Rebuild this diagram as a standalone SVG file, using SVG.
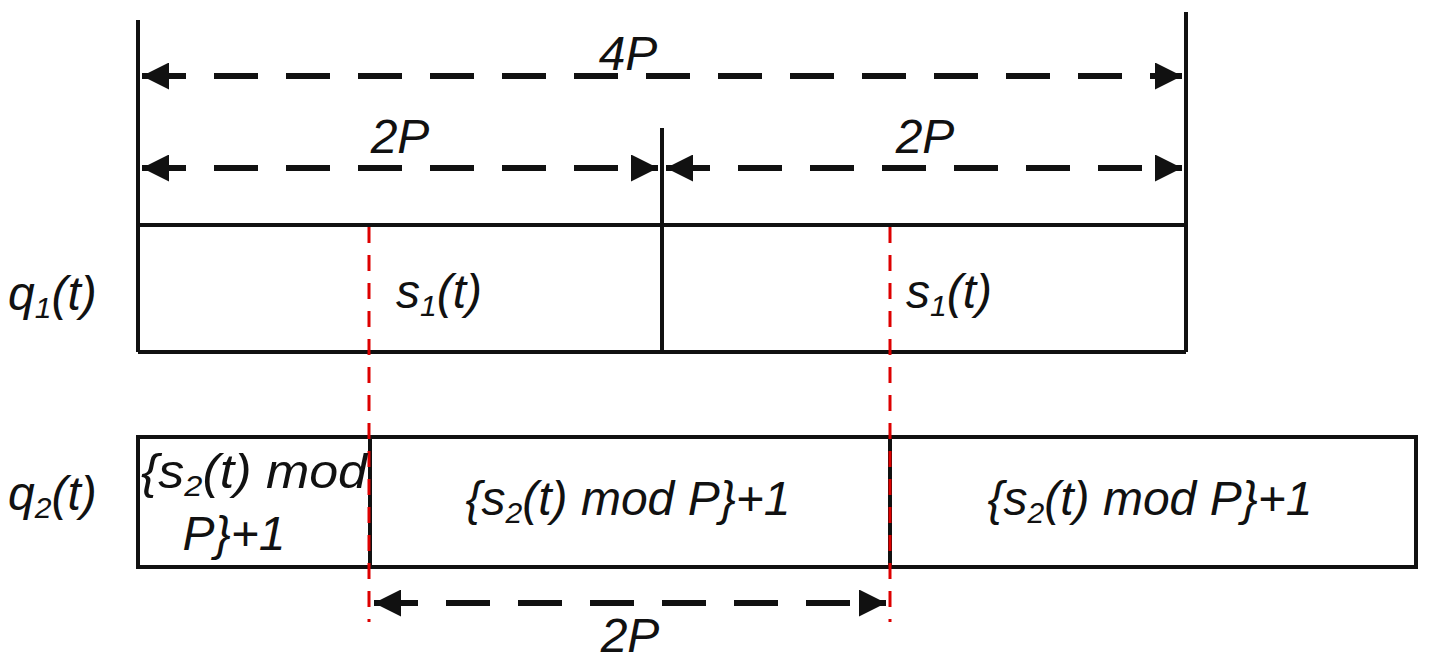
<svg xmlns="http://www.w3.org/2000/svg" width="1430" height="666" viewBox="0 0 1430 666">
<style>
.t{font-family:"Liberation Sans",Arial,sans-serif;font-style:italic;font-size:48px;fill:#111}
.s{font-size:30px}
.d{stroke:#111;stroke-width:6;stroke-dasharray:44 28;fill:none}
.r{stroke:#d00;stroke-width:3;stroke-dasharray:16 12;fill:none}
.k{stroke:#111;stroke-width:4;fill:none}
</style>
<defs>
<marker id="a" viewBox="0 0 10 10" refX="10" refY="5" markerWidth="4.5" markerHeight="4.5" orient="auto-start-reverse"><path d="M0,0L10,5L0,10z" fill="#111"/></marker>
</defs>
<rect width="1430" height="666" fill="#fff"/>
<g id="q1">
<line class="k" x1="138" y1="225" x2="1186" y2="225" stroke="#444"/>
<line class="k" x1="138" y1="352" x2="1186" y2="352"/>
<line class="k" x1="138" y1="20" x2="138" y2="352"/>
<line class="k" x1="662" y1="128" x2="662" y2="352"/>
<line class="k" x1="1186" y1="12" x2="1186" y2="352"/>
</g>
<g id="q2">
<rect class="k" x="138" y="437" width="1278" height="130"/>
<line class="k" x1="370" y1="437" x2="370" y2="567"/>
<line class="k" x1="890" y1="437" x2="890" y2="567"/>
</g>
<g id="connectors">
<line class="d" x1="142" y1="76" x2="1182" y2="76" marker-start="url(#a)" marker-end="url(#a)"/>
<line class="d" x1="142" y1="168" x2="658" y2="168" marker-start="url(#a)" marker-end="url(#a)"/>
<line class="d" x1="666" y1="168" x2="1182" y2="168" marker-start="url(#a)" marker-end="url(#a)"/>
<line class="d" x1="374" y1="603" x2="886" y2="603" marker-start="url(#a)" marker-end="url(#a)"/>
<line class="r" x1="369" y1="227" x2="369" y2="622"/>
<line class="r" x1="890" y1="227" x2="890" y2="622"/>
</g>
<g id="labels">
<text class="t" x="628" y="70" text-anchor="middle">4P</text>
<text class="t" x="400" y="153" text-anchor="middle">2P</text>
<text class="t" x="925" y="153" text-anchor="middle">2P</text>
<text class="t" x="630" y="652" text-anchor="middle">2P</text>
<text class="t" x="8" y="310">q<tspan class="s" dy="8">1</tspan><tspan dy="-8">(t)</tspan></text>
<text class="t" x="8" y="510">q<tspan class="s" dy="8">2</tspan><tspan dy="-8">(t)</tspan></text>
<text class="t" x="396" y="308">s<tspan class="s" dy="8">1</tspan><tspan dy="-8">(t)</tspan></text>
<text class="t" x="906" y="308">s<tspan class="s" dy="8">1</tspan><tspan dy="-8">(t)</tspan></text>
<text class="t" x="254" y="488" text-anchor="middle" textLength="226" lengthAdjust="spacingAndGlyphs">{s<tspan class="s" dy="8">2</tspan><tspan dy="-8">(t) mod</tspan></text>
<text class="t" x="234" y="550" text-anchor="middle">P}+1</text>
<text class="t" x="628" y="515" text-anchor="middle">{s<tspan class="s" dy="8">2</tspan><tspan dy="-8">(t) mod P}+1</tspan></text>
<text class="t" x="1150" y="515" text-anchor="middle">{s<tspan class="s" dy="8">2</tspan><tspan dy="-8">(t) mod P}+1</tspan></text>
</g>
</svg>
